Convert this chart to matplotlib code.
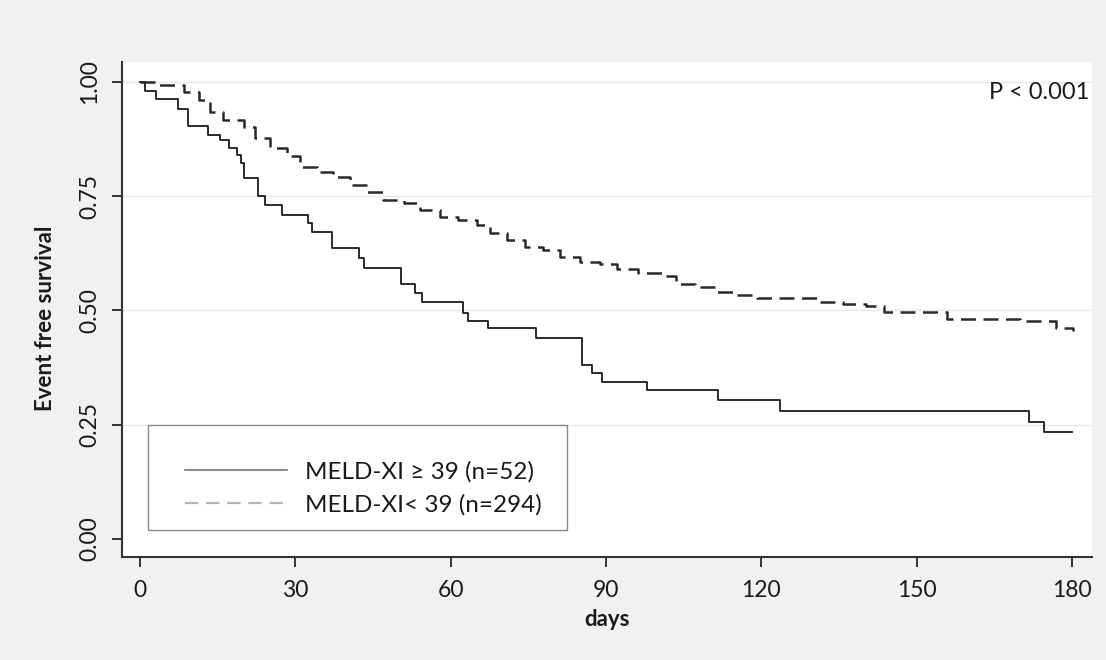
import matplotlib
matplotlib.use("Agg")
import matplotlib.pyplot as plt
from matplotlib.lines import Line2D
from matplotlib.patches import Rectangle

# Kaplan-Meier step values (day, survival)
t_high = [0, 1.0, 3.1, 7.4, 9.3, 13.2, 15.4, 17.1, 18.7, 19.5, 20.0, 22.7, 24.1,
          27.4, 32.5, 33.2, 37.0, 42.2, 43.2, 50.5, 53.1, 54.4, 62.4, 63.4,
          67.3, 76.5, 85.3, 87.2, 89.2, 97.9, 111.7, 123.6, 171.6, 174.6, 180.0]
s_high = [1.0, 0.981, 0.962, 0.940, 0.904, 0.884, 0.873, 0.855, 0.840, 0.822, 0.789,
          0.751, 0.731, 0.709, 0.691, 0.672, 0.636, 0.614, 0.592, 0.558, 0.538,
          0.519, 0.494, 0.476, 0.461, 0.439, 0.381, 0.363, 0.344, 0.325, 0.304,
          0.281, 0.255, 0.233, 0.233]

t_low = [0, 3.5, 8.4, 11.3, 13.5, 16.1, 20.0, 22.2, 25.1, 28.3, 30.9, 34.1, 37.3,
         40.6, 43.8, 47.0, 50.9, 54.1, 57.9, 61.5, 65.0, 67.6, 70.8, 74.4, 77.9,
         81.1, 85.0, 88.8, 92.1, 96.2, 101.1, 103.6, 107.2, 111.0, 115.2, 119.1,
         131.3, 135.8, 140.3, 143.6, 155.8, 170.0, 177.0, 180.2]
s_low = [1.0, 0.993, 0.979, 0.961, 0.935, 0.917, 0.902, 0.877, 0.855, 0.837, 0.813,
         0.804, 0.793, 0.775, 0.760, 0.742, 0.735, 0.720, 0.705, 0.698, 0.687,
         0.669, 0.654, 0.638, 0.632, 0.616, 0.607, 0.602, 0.590, 0.581, 0.575,
         0.557, 0.551, 0.541, 0.534, 0.528, 0.519, 0.514, 0.510, 0.496, 0.481,
         0.476, 0.461, 0.455]

labels = ["MELD-XI \u2265 39 (n=52)", "MELD-XI< 39 (n=294)"]
x_ticks = [0, 30, 60, 90, 120, 150, 180]
y_ticks = [0.0, 0.25, 0.50, 0.75, 1.00]

plt.rcParams['font.family'] = ['Lato', 'DejaVu Sans']
txt_col = '#1a1a1a'

fig = plt.figure(figsize=(11.06, 6.6), dpi=100, facecolor='#f1f1f1')
ax = fig.add_axes([0.1103, 0.1561, 0.877, 0.75])
ax.set_facecolor('white')

# grid lines
for yv in y_ticks[1:]:
    ax.axhline(yv, color='#e8e8e8', lw=1.0, zorder=0)

ax.step(t_high, s_high, where='post', color='#1a1a1a', lw=1.3)
ax.step(t_low, s_low, where='post', color='#2a2a2a', lw=1.8, dashes=(6, 3))

ax.set_xlim(-3.48, 183.85)
ax.set_ylim(-0.0394, 1.0438)
ax.set_xticks(x_ticks)
ax.set_yticks(y_ticks)
ax.set_yticklabels(["%.2f" % v for v in y_ticks], rotation=90, va='center')
ax.tick_params(axis='both', labelsize=16.5, length=7.5, width=1.4, color='#333333',
               labelcolor=txt_col)
ax.tick_params(axis='x', pad=9)
ax.tick_params(axis='y', pad=8)

for side in ['top', 'right']:
    ax.spines[side].set_visible(False)
for side in ['left', 'bottom']:
    ax.spines[side].set_color('#333333')
    ax.spines[side].set_linewidth(1.5)

ax.set_xlabel('days', fontsize=16, fontweight='bold', color=txt_col)
ax.set_ylabel('Event free survival', fontsize=16, fontweight='bold', color=txt_col)
ax.xaxis.set_label_coords(0.5, -0.105)
ax.yaxis.set_label_coords(-0.068, 0.483)

ax.text(0.997, 0.939, 'P < 0.001', transform=ax.transAxes, ha='right', va='center',
        fontsize=17, color=txt_col)

# legend box drawn separately (content sits high in the box)
ax.add_patch(Rectangle((0.0268, 0.0545), 0.432, 0.2122, transform=ax.transAxes,
                       facecolor='white', edgecolor='#8a8a8a', lw=1.0, zorder=3))
handles = [Line2D([], [], color='#6a6a6a', lw=1.1),
           Line2D([], [], color='#b5b5b5', lw=1.6, dashes=(6, 3.5))]
leg = ax.legend(handles, labels, loc='center left',
                bbox_to_anchor=(0.065, 0.1384), fontsize=17.5, frameon=False,
                handlelength=4.2, handletextpad=0.75, borderpad=0,
                labelspacing=0.45, borderaxespad=0)
leg.set_zorder(4)
for txt in leg.get_texts():
    txt.set_color(txt_col)

fig.savefig('out.png', dpi=100, facecolor=fig.get_facecolor())
